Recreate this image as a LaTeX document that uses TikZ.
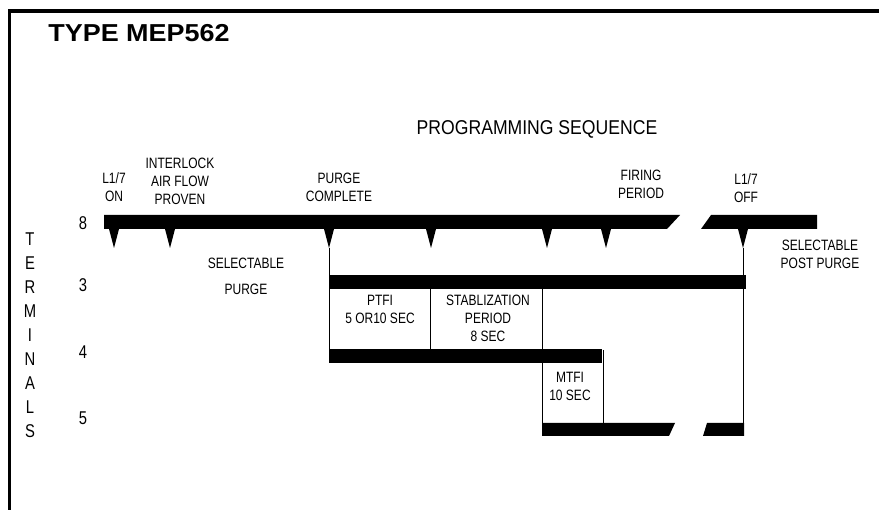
\documentclass[tikz,border=0pt]{standalone}
\usepackage{fontspec}
\setmainfont{Liberation Sans}
\newfontfamily\narrowfont[FakeStretch=0.8]{Liberation Sans}
\newfontfamily\headfont[FakeStretch=0.88]{Liberation Sans}
\newfontfamily\widefont[FakeStretch=1.1]{Liberation Sans}
\begin{document}
\begin{tikzpicture}[x=1pt,y=-1pt,fill=black,
    lbl/.style={font=\narrowfont\fontsize{15}{18}\selectfont,align=center,inner sep=0pt},
    num/.style={font=\narrowfont\fontsize{18.5}{24}\selectfont,align=center,inner sep=0pt},
    wire/.style={line width=1pt}]
            \useasboundingbox (0,0) rectangle (879,510);
            % frame
            \draw[line width=3.5pt] (9.5,510) -- (9.5,11) -- (879,11);
            \node[font=\widefont\bfseries\fontsize{24.5}{28}\selectfont,inner sep=0pt] (title) at (139,33.5) {TYPE MEP562};
            \node[font=\headfont\fontsize{20}{24}\selectfont,inner sep=0pt] (prog) at (537,129.5) {PROGRAMMING SEQUENCE};
            % terminals
            \node[num] (terms) at (30,335) {T\\E\\R\\M\\I\\N\\A\\L\\S};
            \node[num] (t8) at (83,223) {8};
            \node[num] (t3) at (83,285) {3};
            \node[num] (t4) at (83,352) {4};
            \node[num] (t5) at (83,418) {5};
            % bars
            \scope
            \fill (104,215) -- (680,215) -- (667,229) -- (104,229) -- cycle;
            \fill (711,215) -- (817,215) -- (817,229) -- (701,229) -- cycle;
            \fill (329,275) rectangle (746,289);
            \fill (329,349) rectangle (602,363);
            \fill (542,423) -- (675,423) -- (669,436) -- (542,436) -- cycle;
            \fill (707,423) -- (744,423) -- (744,436) -- (703,436) -- cycle;
            \endscope
            % ticks under terminal 8
            \foreach \t in {114,170,329,431,547,606,743}
              \fill (\t-5,229) -- (\t+5,229) -- (\t,248) -- cycle;
            % steps
            \draw[wire] (329,248) -- (329,349)
            (430,289) -- (430,349)
            (542,289) -- (542,423)
            (603,350) -- (603,423)
            (743,248) -- (743,423);
            % events
            \node[lbl] (on) at (114,187) {L1/7\\ON};
            \node[lbl] (airflow) at (180,181) {INTERLOCK\\AIR FLOW\\PROVEN};
            \node[lbl] (purged) at (339,187) {PURGE\\COMPLETE};
            \node[lbl] (firing) at (641,184) {FIRING\\PERIOD};
            \node[lbl] (off) at (746,188) {L1/7\\OFF};
            \node[lbl] (postpurge) at (820,254) {SELECTABLE\\POST PURGE};
            \node[lbl] (purge) at (246,276) {SELECTABLE\\[8pt]PURGE};
            \node[lbl] (ptfi) at (380,309) {PTFI\\5 OR10 SEC};
            \node[lbl] (stab) at (488,318) {STABLIZATION\\PERIOD\\8 SEC};
            \node[lbl] (mtfi) at (570,386) {MTFI\\10 SEC};
        \end{tikzpicture}
\end{document}
